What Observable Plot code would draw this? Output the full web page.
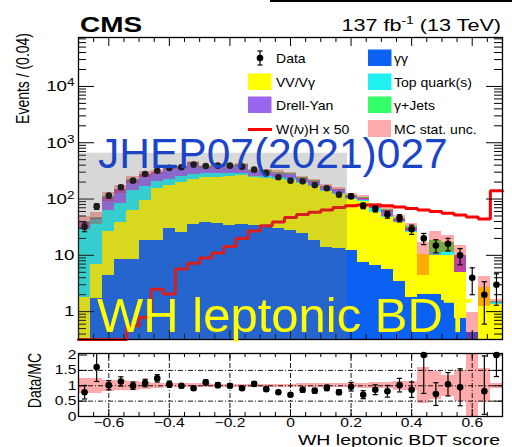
<!DOCTYPE html>
<html>
<head>
<meta charset="utf-8">
<script src="https://cdn.jsdelivr.net/npm/d3@7"></script>
<script src="https://cdn.jsdelivr.net/npm/@observablehq/plot@0.6"></script>
<style>
  html, body { margin: 0; padding: 0; background: #fff; }
  #chart { position: relative; width: 512px; height: 447px; overflow: hidden; background: #fff; }
  #chart svg { position: absolute; left: 0; }
</style>
</head>
<body>
<div id="chart"></div>
<script>
// ---- Binning: WH leptonic BDT score, 35 bins of width 0.04 ----
const binEdges = [-0.70,-0.66,-0.62,-0.58,-0.54,-0.50,-0.46,-0.42,-0.38,-0.34,-0.30,-0.26,-0.22,-0.18,-0.14,-0.10,-0.06,-0.02,
                  0.02,0.06,0.10,0.14,0.18,0.22,0.26,0.30,0.34,0.38,0.42,0.46,0.50,0.54,0.58,0.62,0.66,0.70];

// ---- Simulated backgrounds (events per bin), stacked bottom to top ----
const gammaGamma = [0.2,1.7,4.4,8.6,8.6,18.3,18.3,29.4,25.6,36,38.6,37,33.6,36,33.6,31,29.4,27.4,24,18.3,13.9,13,12.1,7.5,6.5,5.7,3.5,1.8,2.0,2.0,1.6,0.75,0.43,0.1,0.1];
const vvVgamma   = [1.55,5.3,22.3,30,55.1,75.7,132.7,143.6,172.4,182,203.4,205,216.4,225,206.4,205,195.6,186.6,161,146.7,121,109,87.9,83.5,51.5,41.3,35.1,23.8,8.3,8,8.4,4.25,0,2.6,1.23];
const topQuark   = [27.6,37,35.3,43.4,77.3,72,54,52,52,52,37,38,35,29,16,16,15,14,12,10,8,6,4,5,9,1,1.4,1.4,0.2,1.3,1.3,0,0,0,0.17];
const drellYan   = [8.6,2,46,63,74,104,87,125,115,155,86,100,100,105,51,50,48,46,34,28,22,18,7,7,6,14,3,3,0,0,0,5,0,0,0];
const gammaJets  = [2,1,4,5,7,8,8,10,10,15,10,10,10,10,13,13,12,11,9,7,5,4,4,4,4,2,2,2,0,6.7,5.7,0,0,0,0];

// Relative MC statistical uncertainty per bin
const mcStatRelErr = [0.25,0.25,0.18,0.16,0.14,0.12,0.08,0.07,0.06,0.06,0.06,0.05,0.05,0.05,0.05,0.05,0.05,0.05,0.06,0.06,0.06,0.07,0.07,0.08,0.10,0.10,0.14,0.15,0.58,0.45,0.35,0.50,1.20,0.55,0.08];

// W(lv)H signal, scaled by 50
const whSignalX50 = [0.1,0.1,0.1,0.1,0.56,0.79,2.5,2.06,5.7,7.2,9,11,14.4,20,27,33.6,39,47,53,58,64,71,76,78,78,76,72,68,64,60,56,52,48,44,141];

// Observed events and their uncertainties
const observed    = [32,74,115,162,212,279,318,357,366,408,387,392,392,376,333,291,244,212,206,177,155,120,112,76,67,53,46,29,20,15,16,10,4,2,3];
const observedErr = [5.7,8.6,10.7,12.7,14.6,16.7,17.8,18.9,19.1,20.2,19.7,19.8,19.8,19.4,18.2,17.1,15.6,14.6,14.4,13.3,12.4,11.0,10.6,8.7,8.2,7.3,6.8,5.4,4.5,3.9,4.0,3.2,2.0,1.4,1.7];

// Data/MC ratio panel (points above the range are shown at the top edge)
const ratioDataMC  = [0.79,1.61,1.02,1.14,1.00,1.09,1.24,1.05,1.00,0.92,1.11,1.02,1.00,0.92,1.06,0.89,0.79,0.71,0.87,0.84,0.93,0.79,0.97,0.71,0.87,0.82,1.02,0.87,2.00,0.73,1.05,0.95,null,0.82,2.00];
const ratioErrDown = [0.22,0.47,0.15,0.15,0.12,0.12,0.12,0.10,0.07,0.06,0.08,0.08,0.06,0.06,0.07,0.07,0.06,0.06,0.08,0.08,0.09,0.08,0.14,0.13,0.16,0.19,0.22,0.25,1.25,0.37,0.38,0.60,null,0.75,0.70];
const ratioErrUp   = [0.22,0.47,0.15,0.15,0.12,0.12,0.12,0.10,0.07,0.06,0.08,0.08,0.06,0.06,0.07,0.07,0.06,0.06,0.08,0.08,0.09,0.08,0.14,0.13,0.16,0.19,0.22,0.25,0.50,0.37,0.38,0.60,null,1.15,0.50];

// Axis ticks
const xMajorTicks = [-0.6,-0.4,-0.2,0,0.2,0.4,0.6];
const xMinorTicks = [-0.65,-0.55,-0.5,-0.45,-0.35,-0.3,-0.25,-0.15,-0.1,-0.05,0.05,0.1,0.15,0.25,0.3,0.35,0.45,0.5,0.55,0.65];
const yMajorTicks = [1,10,100,1000,10000];
const ratioTicks  = [0,0.5,1,1.5,2];
const ratioGridY  = [0.5,1,1.5];

// Greyed-out box over the low-score region
const greyBox = [{x1: -0.70, x2: 0.188, yTop: 650}];

// Legend entries
const legendLeft  = [
  {kind: "data", label: "Data"},
  {kind: "box", label: "VV/Vγ", layer: 1},
  {kind: "box", label: "Drell-Yan", layer: 3},
  {kind: "line", label: "W(<l>ν)H x 50"}
];
const legendRight = [
  {kind: "box", label: "γγ", layer: 0},
  {kind: "box", label: "Top quark(s)", layer: 2},
  {kind: "box", label: "γ+Jets", layer: 4},
  {kind: "band", label: "MC stat. unc."}
];

// ---------------------------------------------------------------
const FONT = '"Liberation Sans", Arial, Helvetica, sans-serif';
const W = 512;
const yMin = 0.32, yMax = 7.4e4;
const nBins = observed.length;
const centers = observed.map((_, i) => (binEdges[i] + binEdges[i + 1]) / 2);
const SIGNAL_RED = "#ff0000";
const BAND_FILL = "#ff0000", BAND_OPACITY = 0.33;

const layers = [
  {values: gammaGamma, fill: "#0b62f2"},
  {values: vvVgamma,   fill: "#ffff00"},
  {values: topQuark,   fill: "#20f0f0"},
  {values: drellYan,   fill: "#9966ee"},
  {values: gammaJets,  fill: "#33ff66"}
];

// Minor log ticks 2..9 in each decade
const yMinorTicks = [];
for (let e = -1; e <= 4; e++) for (let m = 2; m <= 9; m++) {
  const v = m * Math.pow(10, e);
  if (v > yMin && v < yMax) yMinorTicks.push(v);
}

// Stack the backgrounds
const stackRows = layers.map(() => []);
const totals = [];
for (let i = 0; i < nBins; i++) {
  let cum = 0;
  layers.forEach((L, k) => {
    const lo = cum; cum += L.values[i];
    stackRows[k].push({x1: binEdges[i], x2: binEdges[i + 1], y1: Math.max(lo, yMin), y2: Math.max(cum, yMin)});
  });
  totals.push(cum);
}
const bandRows = totals.map((t, i) => ({
  x1: binEdges[i], x2: binEdges[i + 1],
  y1: Math.max(t * (1 - mcStatRelErr[i]), yMin), y2: Math.max(t * (1 + mcStatRelErr[i]), yMin)
}));
const signalSteps = binEdges.map((x, i) => ({x, y: Math.max(whSignalX50[Math.min(i, nBins - 1)], yMin)}));
const dataRows = observed.map((v, i) => ({x: centers[i], v, lo: Math.max(v - observedErr[i], yMin), hi: v + observedErr[i]}));

const ratioMax = 2.05;
const ratioBand = mcStatRelErr.map((e, i) => ({
  x1: binEdges[i], x2: binEdges[i + 1], y1: Math.max(1 - e, 0), y2: Math.min(1 + e, ratioMax)
}));
const ratioRows = ratioDataMC.map((r, i) => r == null ? null : ({
  x: centers[i], v: r, lo: Math.max(r - ratioErrDown[i], 0), hi: r + ratioErrUp[i]
})).filter(d => d);

// Horizontal cap for error bars
const capSymbol = {
  draw(context, size) {
    const r = Math.sqrt(size / Math.PI);
    context.moveTo(-r, 0); context.lineTo(r, 0);
  }
};

function fmtX(d) {
  if (d === 0) return "0";
  return (d < 0 ? "\u2212" : "") + Math.abs(d).toFixed(1);
}

// Widen text horizontally around its anchor and set 10^n exponents
function styleText(svg, sx) {
  svg.querySelectorAll("text").forEach(t => {
    const m = /^10\^(\d+)$/.exec(t.textContent);
    if (m) {
      t.textContent = "10";
      const s = document.createElementNS("http://www.w3.org/2000/svg", "tspan");
      s.setAttribute("dy", "-0.45em");
      s.setAttribute("font-size", "0.72em");
      s.textContent = m[1];
      t.appendChild(s);
    }
    const x = parseFloat(t.getAttribute("x")) || 0;
    const tr = t.getAttribute("transform") || "";
    t.setAttribute("transform", `${tr} translate(${x},0) scale(${sx},1) translate(${-x},0)`);
  });
}

// ---------------- Main panel ----------------
const mT = 37, mB = 6, mL = 78, mR = 10, mainH = 345;
const frameW = W - mL - mR;
const mainFrameH = mainH - mT - mB;

const tickOpts = {stroke: "black", strokeWidth: 1};
const main = Plot.plot({
  width: W, height: mainH,
  marginTop: mT, marginBottom: mB, marginLeft: mL, marginRight: mR,
  style: {fontFamily: FONT, fontSize: "15px", color: "black", background: "transparent", overflow: "visible"},
  x: {domain: [-0.7, 0.7], axis: null},
  y: {type: "log", domain: [yMin, yMax], axis: null},
  marks: [
    ...layers.map((L, k) => Plot.rect(stackRows[k], {x1: "x1", x2: "x2", y1: "y1", y2: "y2", fill: L.fill, shapeRendering: "crispEdges"})),
    Plot.rect(bandRows, {x1: "x1", x2: "x2", y1: "y1", y2: "y2", fill: BAND_FILL, fillOpacity: BAND_OPACITY, shapeRendering: "crispEdges"}),
    Plot.line(signalSteps, {x: "x", y: "y", curve: "step-after", stroke: SIGNAL_RED, strokeWidth: 3, strokeLinejoin: "miter"}),
    Plot.ruleX(dataRows, {x: "x", y1: "lo", y2: "hi", stroke: "black", strokeWidth: 1.2}),
    Plot.dot(dataRows, {x: "x", y: "lo", symbol: capSymbol, r: 2.6, stroke: "black", strokeWidth: 1.2, fill: "none"}),
    Plot.dot(dataRows, {x: "x", y: "hi", symbol: capSymbol, r: 2.6, stroke: "black", strokeWidth: 1.2, fill: "none"}),
    Plot.dot(dataRows, {x: "x", y: "v", r: 3.3, fill: "black", stroke: "none"}),
    // ticks: x bottom/top, y left/right
    Plot.ruleX(xMajorTicks, {...tickOpts, insetTop: mainFrameH - 9}),
    Plot.ruleX(xMinorTicks, {...tickOpts, insetTop: mainFrameH - 5}),
    Plot.ruleX(xMajorTicks, {...tickOpts, insetBottom: mainFrameH - 9}),
    Plot.ruleX(xMinorTicks, {...tickOpts, insetBottom: mainFrameH - 5}),
    Plot.ruleY(yMajorTicks, {...tickOpts, insetRight: frameW - 16}),
    Plot.ruleY(yMinorTicks, {...tickOpts, insetRight: frameW - 8}),
    Plot.ruleY(yMajorTicks, {...tickOpts, insetLeft: frameW - 16}),
    Plot.ruleY(yMinorTicks, {...tickOpts, insetLeft: frameW - 8}),
    Plot.axisY({ticks: yMajorTicks, tickSize: 0, tickPadding: 4, label: null,
                tickFormat: d => d < 100 ? String(d) : "10^" + Math.round(Math.log10(d))}),
    Plot.frame({stroke: "black", strokeWidth: 1.3}),
    Plot.rect(greyBox, {x1: "x1", x2: "x2", y1: () => yMin, y2: "yTop", fill: "rgb(112,112,112)", fillOpacity: 0.27})
  ]
});
styleText(main, 1.25);
main.style.top = "0px";
document.getElementById("chart").appendChild(main);

// ---------------- Ratio panel ----------------
const rTop = 340, rH = 107, rmT = 13, rmB = 31;
const ratioFrameH = rH - rmT - rmB;
const gridOpts = {stroke: "black", strokeWidth: 0.9, strokeDasharray: "5,2,1,2"};
const ratio = Plot.plot({
  width: W, height: rH,
  marginTop: rmT, marginBottom: rmB, marginLeft: mL, marginRight: mR,
  style: {fontFamily: FONT, fontSize: "12.5px", color: "black", background: "transparent", overflow: "visible"},
  x: {domain: [-0.7, 0.7], axis: null},
  y: {domain: [0, ratioMax], axis: null},
  marks: [
    Plot.rect(ratioBand, {x1: "x1", x2: "x2", y1: "y1", y2: "y2", fill: BAND_FILL, fillOpacity: BAND_OPACITY, shapeRendering: "crispEdges"}),
    Plot.ruleX(xMajorTicks, gridOpts),
    Plot.ruleY(ratioGridY, gridOpts),
    Plot.ruleX(ratioRows, {x: "x", y1: "lo", y2: "hi", stroke: "black", strokeWidth: 1.2, clip: true}),
    Plot.dot(ratioRows, {x: "x", y: "lo", symbol: capSymbol, r: 2.6, stroke: "black", strokeWidth: 1.2, fill: "none", clip: true}),
    Plot.dot(ratioRows.filter(d => d.hi <= 2), {x: "x", y: "hi", symbol: capSymbol, r: 2.6, stroke: "black", strokeWidth: 1.2, fill: "none"}),
    Plot.dot(ratioRows, {x: "x", y: "v", r: 3.3, fill: "black", stroke: "none"}),
    Plot.ruleX(xMajorTicks, {...tickOpts, insetTop: ratioFrameH - 7}),
    Plot.ruleX(xMinorTicks, {...tickOpts, insetTop: ratioFrameH - 4}),
    Plot.ruleX(xMajorTicks, {...tickOpts, insetBottom: ratioFrameH - 7}),
    Plot.ruleX(xMinorTicks, {...tickOpts, insetBottom: ratioFrameH - 4}),
    Plot.ruleY(ratioTicks, {...tickOpts, insetRight: frameW - 9}),
    Plot.ruleY(ratioTicks, {...tickOpts, insetLeft: frameW - 9}),
    Plot.axisX({ticks: xMajorTicks, tickSize: 0, tickPadding: 2, label: null, tickFormat: fmtX}),
    Plot.axisY({ticks: ratioTicks, tickSize: 0, tickPadding: 2, label: null, tickFormat: d => String(d)}),
    Plot.frame({stroke: "black", strokeWidth: 1.3})
  ]
});
styleText(ratio, 1.25);
ratio.style.top = rTop + "px";
document.getElementById("chart").appendChild(ratio);

// ---------------- Titles, legend and stamps ----------------
const ov = d3.select("#chart").append("svg")
  .attr("width", W).attr("height", 447)
  .style("top", "0px").style("pointer-events", "none");

function txt(x, y, {size, weight = "normal", anchor = "start", sx = 1, rotate = 0, fill = "black", spacing = null}) {
  const t = ov.append("text")
    .attr("transform", `translate(${x},${y})` + (rotate ? ` rotate(${rotate}) scale(1,${sx})` : ` scale(${sx},1)`))
    .attr("text-anchor", anchor)
    .attr("font-family", FONT)
    .attr("font-size", size)
    .attr("font-weight", weight)
    .attr("fill", fill);
  if (spacing != null) t.attr("letter-spacing", spacing);
  return t;
}

// Experiment and luminosity labels
txt(80, 31.5, {size: 21.5, weight: "bold", sx: 1.3}).text("CMS");
{
  const t = txt(501, 31, {size: 17, anchor: "end", sx: 1.27});
  t.append("tspan").text("137 fb");
  t.append("tspan").attr("dy", -7).attr("font-size", 11).text("-1");
  t.append("tspan").attr("dy", 7).text(" (13 TeV)");
}

// Axis titles
txt(29, 33, {size: 14, anchor: "end", rotate: -90, sx: 1.25}).text("Events / (0.04)");
txt(41, 353, {size: 14, anchor: "end", rotate: -90, sx: 1.25}).text("Data/MC");
txt(500, 445, {size: 15, anchor: "end", sx: 1.3}).text("WH leptonic BDT score");

// Legend
const rowY = [58, 82, 105, 129];
function legendEntry(entry, row, boxX, textX) {
  const cy = rowY[row];
  if (entry.kind === "data") {
    const cx = boxX + 12;
    ov.append("line").attr("x1", cx).attr("x2", cx).attr("y1", cy - 7).attr("y2", cy + 7).attr("stroke", "black").attr("stroke-width", 1.2);
    ov.append("line").attr("x1", cx - 2.6).attr("x2", cx + 2.6).attr("y1", cy - 7).attr("y2", cy - 7).attr("stroke", "black").attr("stroke-width", 1.2);
    ov.append("line").attr("x1", cx - 2.6).attr("x2", cx + 2.6).attr("y1", cy + 7).attr("y2", cy + 7).attr("stroke", "black").attr("stroke-width", 1.2);
    ov.append("circle").attr("cx", cx).attr("cy", cy).attr("r", 3.3).attr("fill", "black");
  } else if (entry.kind === "line") {
    ov.append("line").attr("x1", boxX).attr("x2", boxX + 24).attr("y1", cy + 0.5).attr("y2", cy + 0.5).attr("stroke", SIGNAL_RED).attr("stroke-width", 3);
  } else if (entry.kind === "band") {
    ov.append("rect").attr("x", boxX).attr("y", cy - 9).attr("width", 23).attr("height", 17).attr("fill", BAND_FILL).attr("fill-opacity", BAND_OPACITY);
  } else {
    ov.append("rect").attr("x", boxX).attr("y", cy - 8.5).attr("width", 23.5).attr("height", 16.5).attr("fill", layers[entry.layer].fill);
  }
  const t = txt(textX, cy + 4.5, {size: 12, sx: 1.17});
  const parts = entry.label.split(/<l>/);
  if (parts.length > 1) {
    t.append("tspan").text(parts[0]);
    t.append("tspan").attr("font-style", "italic").text("l");
    t.append("tspan").text(parts[1]);
  } else {
    t.text(entry.label);
  }
}
legendLeft.forEach((e, r) => legendEntry(e, r, 248, 276));
legendRight.forEach((e, r) => legendEntry(e, r, 368, 394));

// Journal reference and category stamps
txt(98, 168.3, {size: 42.5, fill: "#1a45c6"}).text("JHEP07(2021)027");
txt(97, 331.7, {size: 49, fill: "#ffff00"}).text("WH leptonic BDT");

// Edge of the box above the plot
ov.append("rect").attr("x", 270).attr("y", 0).attr("width", 242).attr("height", 2).attr("fill", "black");
</script>
</body>
</html>
